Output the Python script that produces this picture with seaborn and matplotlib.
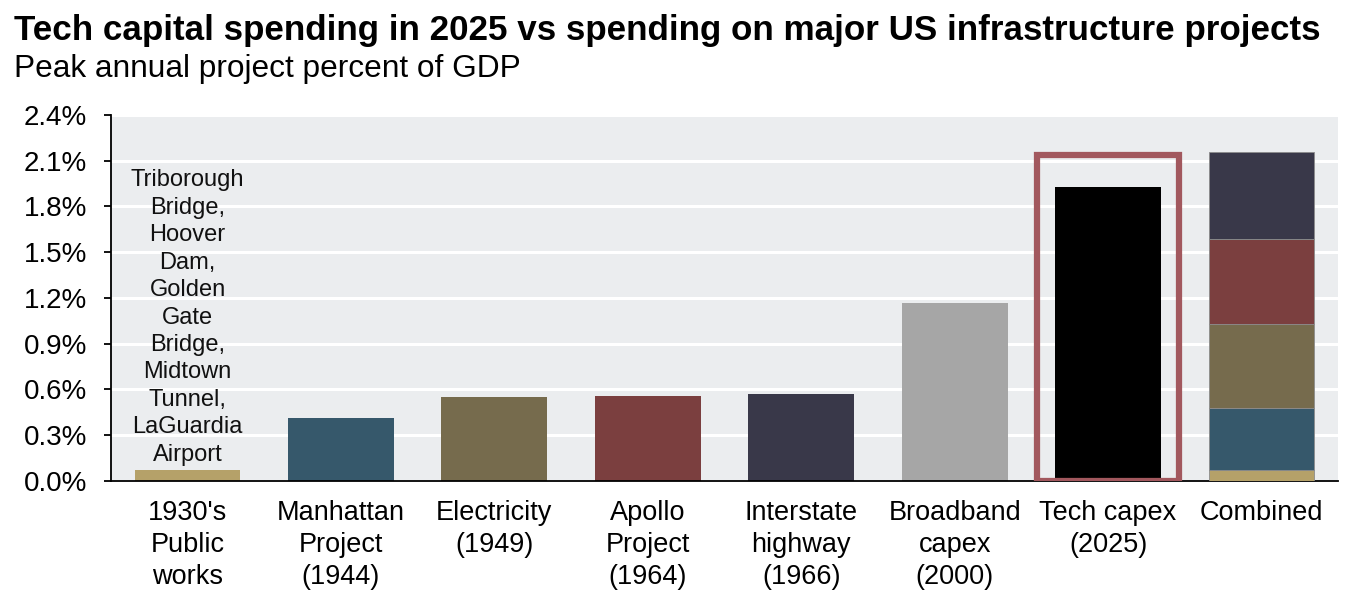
import numpy as np
import pandas as pd
import matplotlib
matplotlib.use("Agg")
import matplotlib.pyplot as plt
import seaborn as sns
from matplotlib.ticker import FuncFormatter, FixedLocator

# ---- data ----
categories = ["1930's\nPublic\nworks", "Manhattan\nProject\n(1944)", "Electricity\n(1949)",
              "Apollo\nProject\n(1964)", "Interstate\nhighway\n(1966)", "Broadband\ncapex\n(2000)",
              "Tech capex\n(2025)", "Combined"]
project_values = [0.07, 0.41, 0.55, 0.56, 0.57]   # % of GDP, components of "Combined"
broadband_value = 1.17
tech_value = 1.93
highlight_top = 2.14
annotation = "Triborough\nBridge,\nHoover\nDam,\nGolden\nGate\nBridge,\nMidtown\nTunnel,\nLaGuardia\nAirport"
yticks = [0.0, 0.3, 0.6, 0.9, 1.2, 1.5, 1.8, 2.1, 2.4]

project_colors = ["#b5a169", "#36586b", "#766b4d", "#7b3f3f", "#393849"]
broadband_color = "#a6a6a6"
tech_color = "#000000"
outline_color = "#a2585e"

sns.set_theme(style="white")
plt.rcParams["font.family"] = ["Liberation Sans", "DejaVu Sans"]
plt.rcParams["text.color"] = "black"
plt.rcParams["xtick.labelcolor"] = "black"
plt.rcParams["ytick.labelcolor"] = "black"

single_vals = project_values + [broadband_value, tech_value]
df = pd.DataFrame({"cat": categories[:7], "val": single_vals})

fig = plt.figure(figsize=(13.6, 6.02), dpi=100)
ax = fig.add_axes([0.0815, 0.201, 0.9025, 0.608])
ax.set_facecolor("#ebedef")

sns.barplot(data=df, x="cat", y="val", hue="cat", order=categories,
            palette=project_colors + [broadband_color, tech_color],
            width=0.69, legend=False, ax=ax, saturation=1, edgecolor="none")

# combined stacked bar
bottom = 0.0
for v, c in zip(project_values, project_colors):
    ax.bar(7, v, bottom=bottom, width=0.69, color=c, edgecolor="#8c8c8c", linewidth=0.6, zorder=3)
    bottom += v

# highlight outline around tech capex
ax.bar(6, highlight_top, width=0.93, fill=False, edgecolor=outline_color, linewidth=4.5, zorder=4)

# annotation for the first bar
ax.text(0, 0.10, annotation, ha="center", va="bottom", fontsize=17,
        linespacing=1.32, color="#111111", zorder=5)

ax.set_xlim(-0.5, 7.5)
ax.set_ylim(0, 2.4)
ax.yaxis.set_major_locator(FixedLocator(yticks))
ax.yaxis.set_major_formatter(FuncFormatter(lambda v, p: f"{v:.1f}%"))
ax.grid(axis="y", color="white", linewidth=2.2)
ax.set_axisbelow(True)

for s in ["top", "right"]:
    ax.spines[s].set_visible(False)
for s in ["left", "bottom"]:
    ax.spines[s].set_color("black")
    ax.spines[s].set_linewidth(1.3)

ax.set_xticks(range(8))
ax.set_xticklabels(categories, fontsize=19.5, linespacing=1.3)
ax.tick_params(axis="x", length=0, pad=14)
ax.set_xticks(np.arange(-0.5, 8.0, 1.0), minor=True)
ax.tick_params(axis="x", which="minor", length=5.5, width=1.3, color="black", direction="out")
ax.tick_params(axis="y", labelsize=20, length=5, width=1.3, color="black", direction="out",
               left=True, pad=12)
ax.set_xlabel("")
ax.set_ylabel("")

fig.text(0.010, 0.950, "Tech capital spending in 2025 vs spending on major US infrastructure projects",
         fontsize=25.2, fontweight="bold", ha="left", va="center")
fig.text(0.010, 0.885, "Peak annual project percent of GDP", fontsize=22.8, ha="left", va="center")

fig.savefig("out.png", dpi=100)
